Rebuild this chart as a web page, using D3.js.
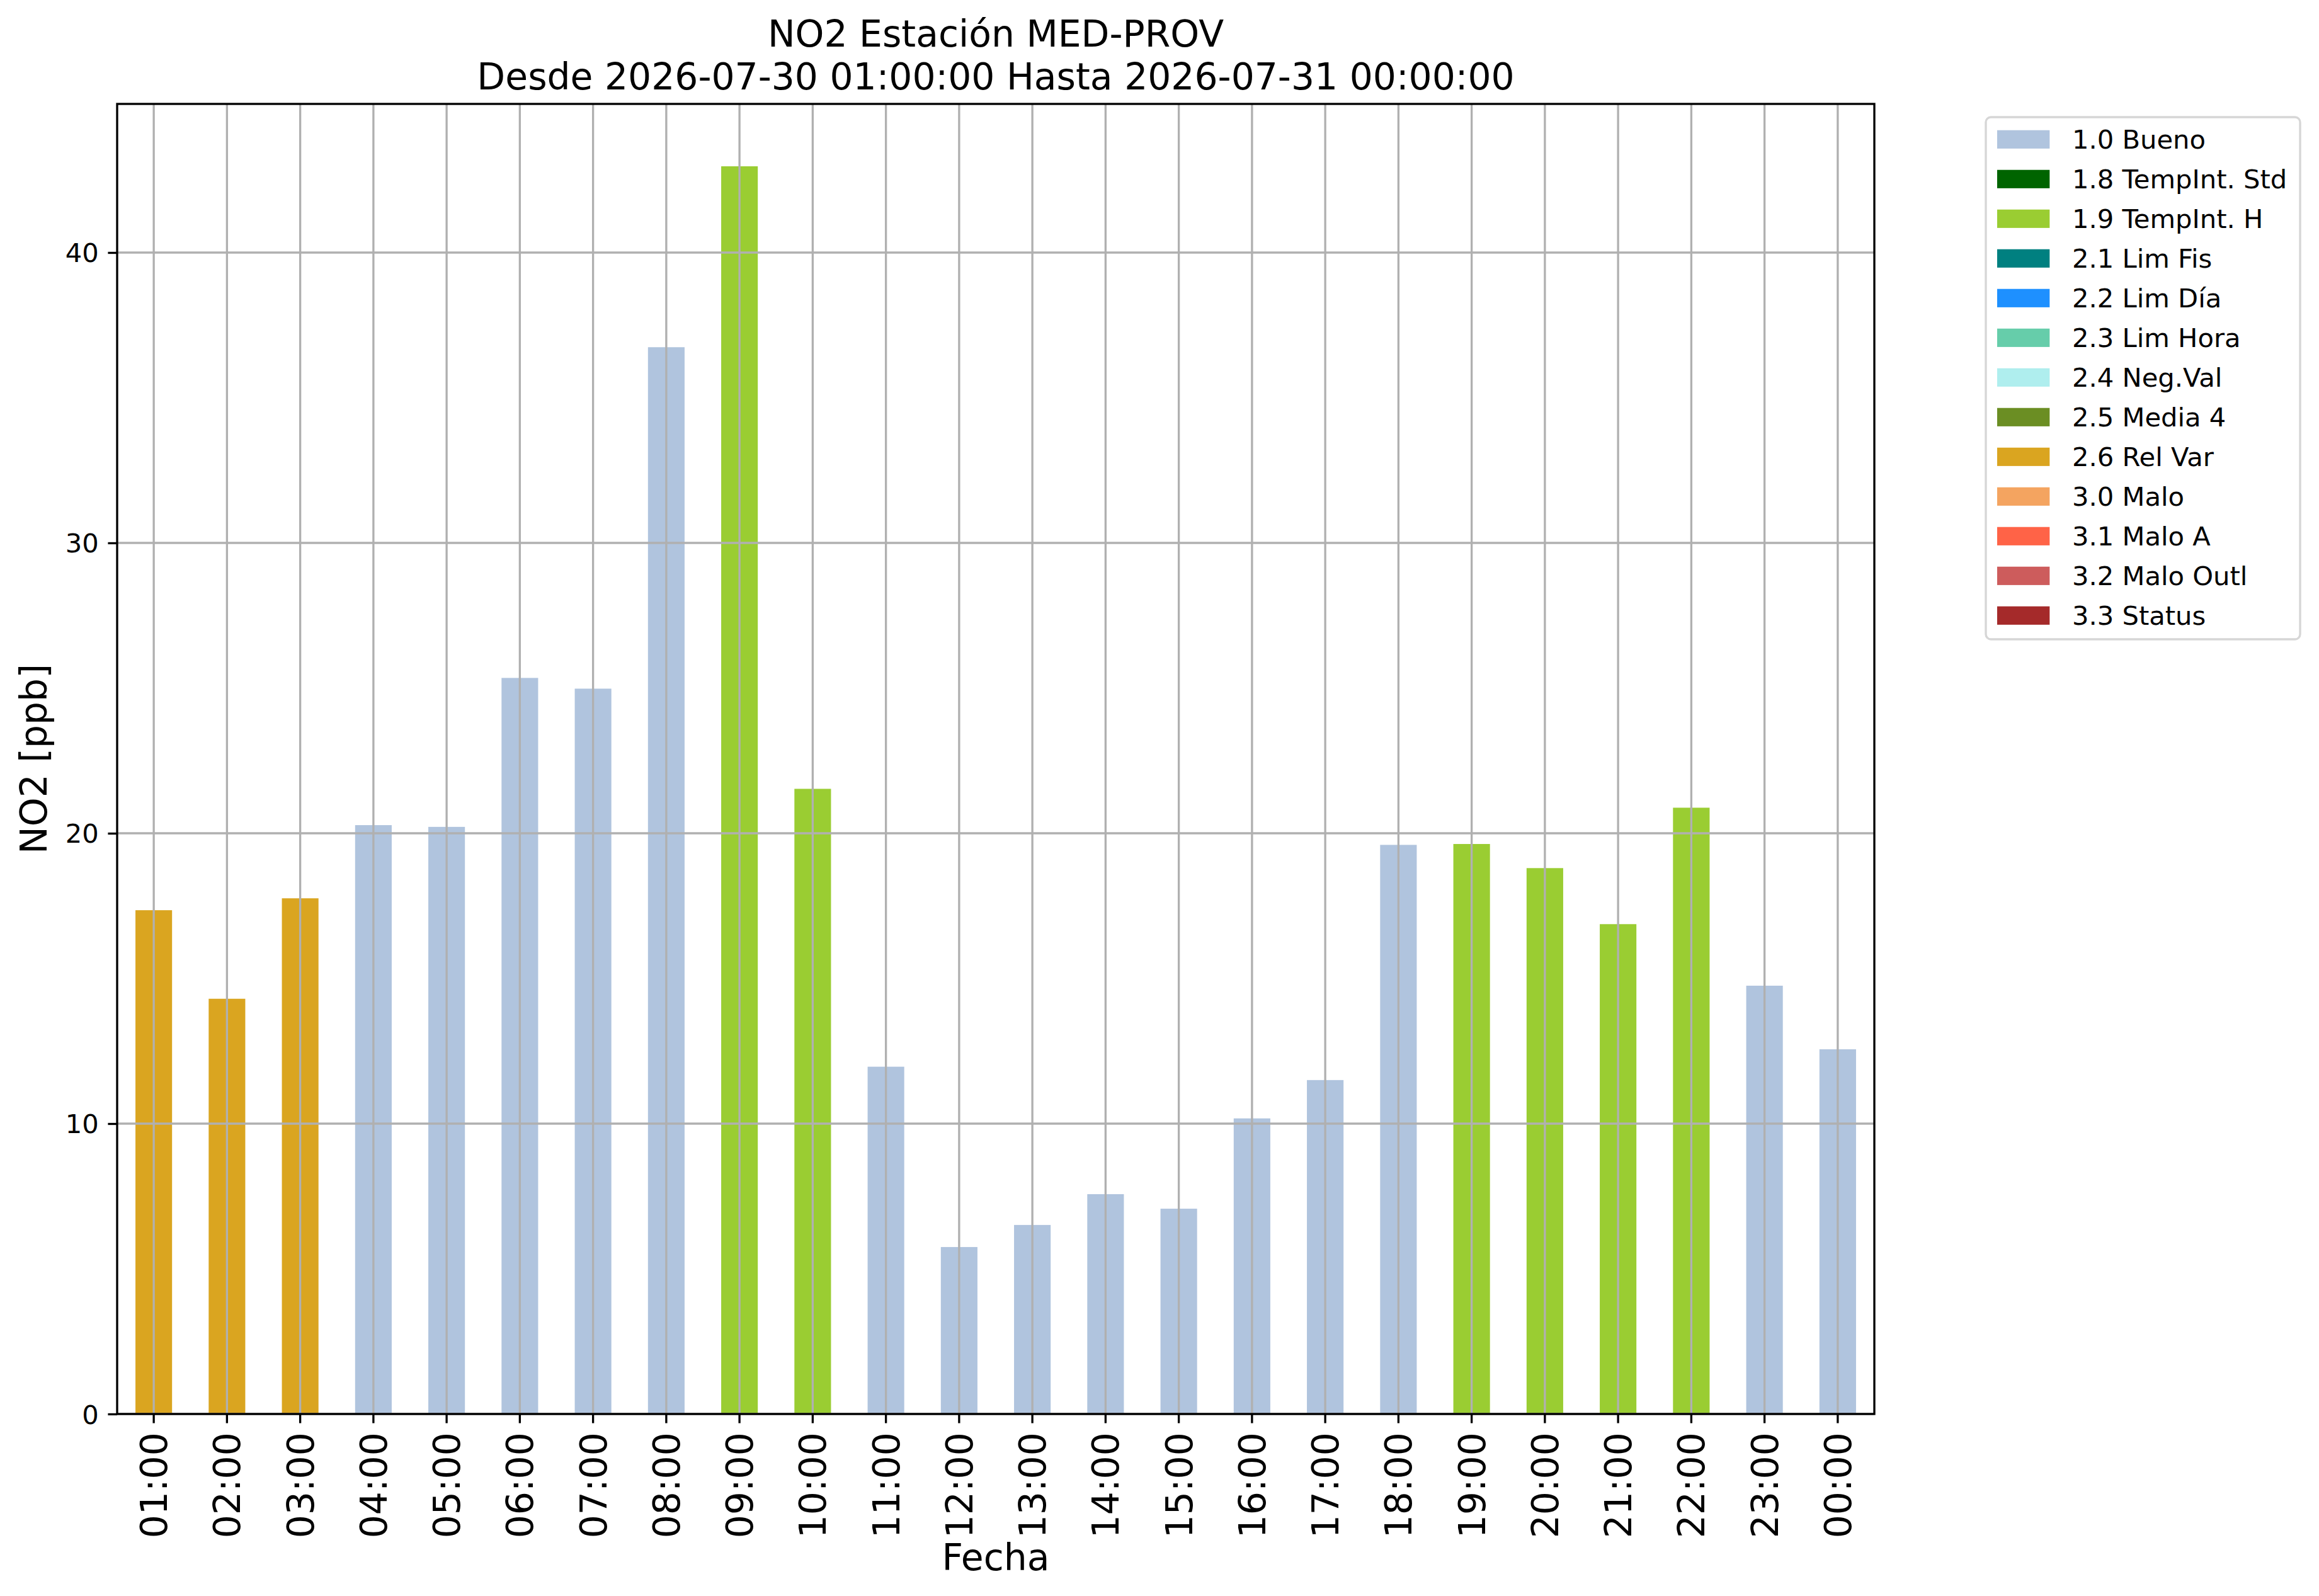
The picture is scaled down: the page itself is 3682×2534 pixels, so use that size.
<!DOCTYPE html>
<html>
<head>
<meta charset="utf-8">
<script src="https://cdn.jsdelivr.net/npm/d3@7/dist/d3.min.js"></script>
<style>
  html, body { margin: 0; padding: 0; background: #ffffff; }
  svg { display: block; }
  text { font-family: "DejaVu Sans", sans-serif; fill: #000; }
</style>
</head>
<body>
<script>
// ---------- data ----------
const hours = ["01:00","02:00","03:00","04:00","05:00","06:00","07:00","08:00","09:00","10:00","11:00","12:00",
               "13:00","14:00","15:00","16:00","17:00","18:00","19:00","20:00","21:00","22:00","23:00","00:00"];
const values = [17.35, 14.3, 17.76, 20.28, 20.22, 25.35, 24.98, 36.74, 42.97, 21.53, 11.96, 5.75,
                6.51, 7.57, 7.07, 10.18, 11.5, 19.6, 19.63, 18.8, 16.87, 20.88, 14.75, 12.56];
const flags = ["2.6","2.6","2.6","1.0","1.0","1.0","1.0","1.0","1.9","1.9","1.0","1.0",
               "1.0","1.0","1.0","1.0","1.0","1.0","1.9","1.9","1.9","1.9","1.0","1.0"];
const legendCodes = ["1.0","1.8","1.9","2.1","2.2","2.3","2.4","2.5","2.6","3.0","3.1","3.2","3.3"];
const legendLabels = ["1.0 Bueno","1.8 TempInt. Std","1.9 TempInt. H","2.1 Lim Fis","2.2 Lim Día","2.3 Lim Hora",
                      "2.4 Neg.Val","2.5 Media 4","2.6 Rel Var","3.0 Malo","3.1 Malo A","3.2 Malo Outl","3.3 Status"];
const legendColors = ["#B0C4DE","#006400","#9ACD32","#008080","#1E90FF","#66CDAA",
                      "#AFEEEE","#6B8E23","#DAA520","#F4A460","#FF6347","#CD5C5C","#A52A2A"];
const yTicks = [0, 10, 20, 30, 40];
const titleLines = ["NO2 Estación MED-PROV", "Desde 2026-07-30 01:00:00 Hasta 2026-07-31 00:00:00"];
const xLabel = "Fecha";
const yLabel = "NO2 [ppb]";

// ---------- layout ----------
const W = 3682, H = 2534;
const pt = 300 / 72;
const plot = { left: 186, right: 2976, top: 165, bottom: 2245 };
const lw = 0.8 * pt;
const fsSmall = 10 * pt, fsBig = 14 * pt;

const svg = d3.select("body").append("svg")
  .attr("width", W).attr("height", H)
  .attr("viewBox", `0 0 ${W} ${H}`);
svg.append("rect").attr("width", W).attr("height", H).attr("fill", "#fff");

const colorScale = d3.scaleOrdinal().domain(legendCodes).range(legendColors);

const x = d3.scaleBand().domain(hours).range([plot.left, plot.right]).paddingInner(0.5).paddingOuter(0.25);
const xc = d => x(d) + x.bandwidth() / 2;
const yMax = d3.max(values) * 1.05;
const y = d3.scaleLinear().domain([0, yMax]).range([plot.bottom, plot.top]);

// bars
svg.append("g").selectAll("rect")
  .data(hours.map((h, i) => ({ h, v: values[i], f: flags[i] })))
  .join("rect")
  .attr("x", d => x(d.h))
  .attr("width", x.bandwidth())
  .attr("y", d => y(d.v))
  .attr("height", d => y(0) - y(d.v))
  .attr("fill", d => colorScale(d.f));

// grid (above bars, as in matplotlib default)
const grid = svg.append("g").attr("stroke", "#b0b0b0").attr("stroke-width", lw);
grid.selectAll("line.v").data(hours).join("line").attr("class", "v")
  .attr("x1", d => xc(d)).attr("x2", d => xc(d))
  .attr("y1", plot.top).attr("y2", plot.bottom);
grid.selectAll("line.h").data(yTicks).join("line").attr("class", "h")
  .attr("x1", plot.left).attr("x2", plot.right)
  .attr("y1", d => y(d)).attr("y2", d => y(d));

// y axis
const yAxis = d3.axisLeft(y).tickValues(yTicks).tickSize(3.5 * pt).tickPadding(3.5 * pt).tickFormat(d3.format("d"));
const gy = svg.append("g").attr("transform", `translate(${plot.left},0)`).call(yAxis);
gy.select(".domain").remove();
gy.selectAll(".tick line").attr("stroke", "#000").attr("stroke-width", lw);
gy.selectAll(".tick text").attr("font-size", fsSmall).attr("font-family", "DejaVu Sans").attr("fill", "#000")
  .attr("dy", "0.36em");

// x axis
const xAxis = d3.axisBottom(x).tickSize(3.5 * pt).tickPadding(0);
const gx = svg.append("g").attr("transform", `translate(0,${plot.bottom})`).call(xAxis);
gx.select(".domain").remove();
gx.selectAll(".tick line").attr("stroke", "#000").attr("stroke-width", lw);
gx.selectAll(".tick text")
  .attr("font-size", fsBig).attr("font-family", "DejaVu Sans").attr("fill", "#000")
  .attr("text-anchor", "end")
  .attr("transform", `translate(0,${7 * pt}) rotate(-90)`)
  .attr("x", 0).attr("y", 0).attr("dy", "0.36em");

// frame
svg.append("rect")
  .attr("x", plot.left).attr("y", plot.top)
  .attr("width", plot.right - plot.left).attr("height", plot.bottom - plot.top)
  .attr("fill", "none").attr("stroke", "#000").attr("stroke-width", lw);

// titles
const cx = (plot.left + plot.right) / 2;
svg.append("text").attr("x", cx).attr("y", 74).attr("text-anchor", "middle").attr("font-size", fsBig).text(titleLines[0]);
svg.append("text").attr("x", cx).attr("y", 142).attr("text-anchor", "middle").attr("font-size", fsBig).text(titleLines[1]);

// axis labels
svg.append("text").attr("x", cx).attr("y", 2493).attr("text-anchor", "middle").attr("font-size", fsBig).text(xLabel);
svg.append("text").attr("transform", `translate(74,${(plot.top + plot.bottom) / 2}) rotate(-90)`)
  .attr("text-anchor", "middle").attr("font-size", fsBig).text(yLabel);

// legend
const lg = svg.append("g");
lg.append("rect")
  .attr("x", 3153).attr("y", 186).attr("width", 3652 - 3153).attr("height", 1015 - 186)
  .attr("rx", 8).attr("ry", 8)
  .attr("fill", "#fff").attr("fill-opacity", 0.8)
  .attr("stroke", "#cccccc").attr("stroke-opacity", 0.8).attr("stroke-width", lw);
const rowH = 63, firstC = 221.3;
const items = lg.selectAll("g.item").data(legendLabels.map((l, i) => ({ l, c: legendColors[i], i })))
  .join("g").attr("class", "item")
  .attr("transform", d => `translate(0,${firstC + d.i * rowH})`);
items.append("rect").attr("x", 3171).attr("y", -0.35 * fsSmall).attr("width", 2 * fsSmall).attr("height", 0.7 * fsSmall)
  .attr("fill", d => d.c);
items.append("text").attr("x", 3290).attr("y", 15).attr("font-size", fsSmall).text(d => d.l);
</script>
</body>
</html>
